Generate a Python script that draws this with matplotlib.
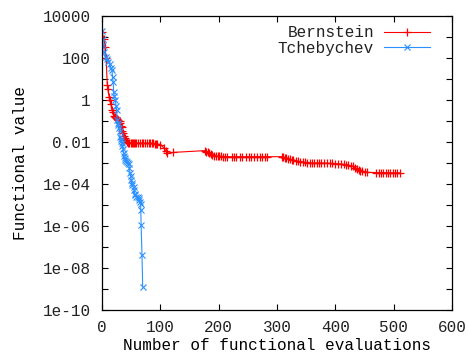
import matplotlib
matplotlib.use("Agg")
import matplotlib.pyplot as plt
from matplotlib.ticker import FixedLocator, FixedFormatter, NullLocator

# values (x = evaluations, y = functional value)
bern_x = [0, 3, 5, 7, 9, 10, 12, 13, 15, 17,
          19, 21, 22, 24, 26, 28, 30, 31, 33, 34,
          35, 36, 38, 39, 41, 43, 45, 47, 49, 51,
          53, 55, 57, 59, 62, 65, 68, 71, 74, 77,
          80, 83, 86, 88, 90, 92, 94, 100, 106, 110,
          112, 122, 177, 179, 181, 183, 186, 189, 192, 195,
          198, 201, 204, 207, 210, 215, 222, 226, 229, 236,
          240, 246, 252, 256, 260, 265, 270, 275, 280, 283,
          309, 311, 313, 316, 319, 322, 325, 328, 332, 336,
          340, 344, 348, 352, 356, 360, 364, 368, 372, 376,
          380, 385, 390, 395, 400, 405, 410, 414, 418, 422,
          426, 430, 434, 437, 440, 443, 446, 450, 454, 470,
          474, 478, 482, 486, 490, 494, 498, 502, 506, 510]
bern_y = [1.7e3, 8e2, 3.3e2, 1e2, 5.1, 3.2, 1.4, 1.0, 0.63, 0.33,
          0.28, 0.18, 0.16, 0.14, 0.126, 0.112, 0.1, 0.079, 0.056, 0.05,
          0.035, 0.027, 0.02, 0.016, 0.0126, 0.01, 0.0093, 0.009, 0.0089, 0.0089,
          0.0088, 0.0089, 0.0088, 0.0088, 0.0087, 0.0088, 0.0087, 0.0087, 0.0086, 0.0087,
          0.0086, 0.0086, 0.0085, 0.0085, 0.0084, 0.0083, 0.0079, 0.0076, 0.0052, 0.0037,
          0.0030, 0.0032, 0.0039, 0.0035, 0.0032, 0.0030, 0.0027, 0.0024, 0.0022, 0.0021,
          0.0021, 0.0021, 0.0021, 0.0020, 0.0020, 0.0020, 0.0020, 0.0020, 0.0020, 0.0020,
          0.0020, 0.0020, 0.0020, 0.0020, 0.0020, 0.0020, 0.0020, 0.0020, 0.0020, 0.0020,
          0.0020, 0.0019, 0.0018, 0.00166, 0.00158, 0.00148, 0.00141, 0.00132, 0.00126, 0.0012,
          0.00115, 0.0011, 0.00107, 0.00105, 0.00102, 0.001, 0.001, 0.001, 0.001, 0.001,
          0.001, 0.00098, 0.00095, 0.00095, 0.00093, 0.00093, 0.00089, 0.00087, 0.00083, 0.00079,
          0.00074, 0.00069, 0.0006, 0.00054, 0.00048, 0.00043, 0.0004, 0.00038, 0.00036, 0.00035,
          0.00035, 0.00035, 0.00035, 0.00035, 0.00034, 0.00034, 0.00034, 0.00034, 0.00034, 0.00034]

cheb_x = [0, 1, 2, 4, 6, 8, 11, 13, 15, 17,
          18, 19, 20, 21, 23, 24, 25, 26, 27, 28,
          29, 30, 31, 32, 33, 34, 35, 36, 37, 38,
          39, 40, 41, 42, 44, 46, 47, 48, 49, 50,
          51, 52, 54, 55, 56, 57, 59, 61, 63, 64,
          65, 66, 66.5, 67, 68.5, 69.7]
cheb_y = [2e3, 8e2, 4.2e2, 2e2, 1.07e2, 89, 66, 50, 35, 27,
          12.6, 7.4, 2.5, 1.6, 1.0, 0.5, 0.33, 0.11, 0.079, 0.063,
          0.047, 0.032, 0.018, 0.014, 0.011, 0.0089, 0.0063, 0.0045, 0.003, 0.0022,
          0.0018, 0.0014, 0.00126, 0.00112, 0.001, 0.00089, 0.00056, 0.00033, 0.00025, 0.00016,
          0.000112, 8.9e-5, 7.4e-5, 5e-5, 3.5e-5, 3e-5, 2.5e-5, 2.4e-5, 2.1e-5, 1.8e-5,
          1.4e-5, 1.1e-5, 5.8e-6, 1.1e-6, 4.2e-8, 1.3e-9]

y_ticks = [10.0 ** e for e in range(4, -11, -1)]
y_labels = ["10000", "", "100", "", "1", "", "0.01", "", "1e-04", "", "1e-06", "",
            "1e-08", "", "1e-10"]
x_ticks = [0, 100, 200, 300, 400, 500, 600]

plt.rcParams["font.family"] = ["Liberation Mono", "DejaVu Sans Mono"]
plt.rcParams["font.size"] = 11.5
plt.rcParams["text.color"] = "#222222"

fig = plt.figure(figsize=(4.68, 3.54), dpi=100)
ax = fig.add_axes([0.218, 0.124, 0.748, 0.831])

ax.plot(bern_x, bern_y, color="#ff0000", lw=0.8, marker="+", ms=6, mew=0.9,
        label="Bernstein")
ax.plot(cheb_x, cheb_y, color="#2a90ff", lw=0.8, marker="x", ms=4.5, mew=0.8,
        label="Tchebychev")

ax.set_yscale("log")
ax.set_xlim(0, 600)
ax.set_ylim(1e-10, 1e4)
ax.yaxis.set_major_locator(FixedLocator(y_ticks))
ax.yaxis.set_major_formatter(FixedFormatter(y_labels))
ax.yaxis.set_minor_locator(NullLocator())
ax.set_xticks(x_ticks)
ax.tick_params(direction="in", length=4, width=0.8, top=True, right=True,
               labelcolor="#222222")
ax.tick_params(axis="y", pad=8)
ax.tick_params(axis="x", pad=7)
for s in ax.spines.values():
    s.set_linewidth(0.9)

ax.set_xlabel("Number of functional evaluations", labelpad=2)
ax.set_ylabel("Functional value", labelpad=11)

leg = ax.legend(loc="upper right", bbox_to_anchor=(0.955, 0.99), frameon=False,
                markerfirst=False, handlelength=2.9, borderaxespad=0,
                labelspacing=0.05, handletextpad=0.6)

fig.savefig("out.png", dpi=100)
